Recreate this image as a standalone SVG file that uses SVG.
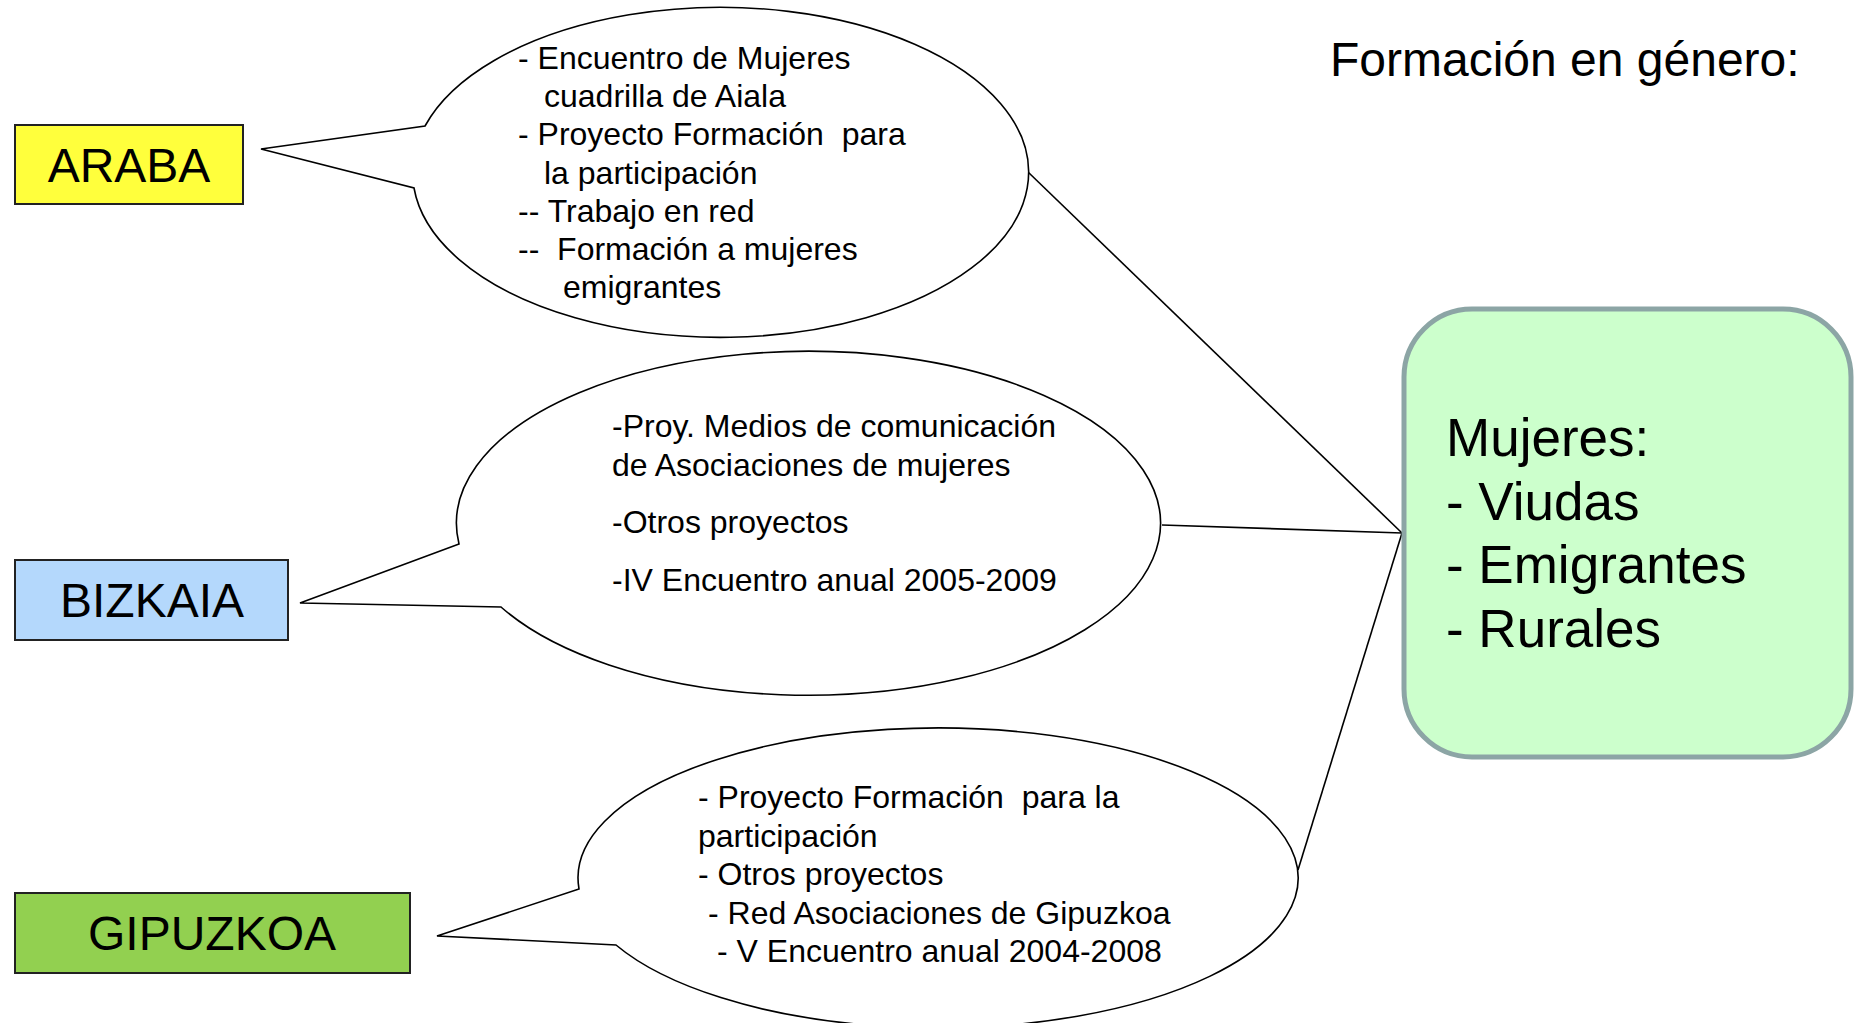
<svg xmlns="http://www.w3.org/2000/svg" width="1856" height="1023" viewBox="0 0 1856 1023">
<style>
  text { font-family: "Liberation Sans", Arial, sans-serif; fill: #000; }
  .t32 { font-size: 32px; }
  .t48 { font-size: 48px; }
  .t53 { font-size: 53px; }
  .bubble { fill: #fff; stroke: #000; stroke-width: 1.6; }
  .conn { fill: none; stroke: #000; stroke-width: 1.6; }
  .box { stroke: #222; stroke-width: 2; }
</style>
<rect x="0" y="0" width="1856" height="1023" fill="#fff"/>

<g id="title">
  <text class="t48" x="1330" y="76">Formación en género:</text>
</g>

<g id="connectors">
  <line class="conn" x1="1028" y1="172" x2="1402" y2="533"/>
  <line class="conn" x1="1162" y1="525" x2="1402" y2="533"/>
  <line class="conn" x1="1298" y1="870" x2="1402" y2="533"/>
</g>

<g id="araba">
  <rect class="box" x="15" y="125" width="228" height="79" fill="#ffff3c"/>
  <text class="t48" x="129" y="182" text-anchor="middle">ARABA</text>
</g>

<g id="araba-bubble">
  <path class="bubble" d="M425,126 A308,165 0 1 1 414,188 L261,149 Z"/>
  <text class="t32" xml:space="preserve"><tspan x="518" y="69">- Encuentro de Mujeres</tspan><tspan x="544" y="107">cuadrilla de Aiala</tspan><tspan x="518" y="145">- Proyecto Formación  para</tspan><tspan x="544" y="184">la participación</tspan><tspan x="518" y="222">-- Trabajo en red</tspan><tspan x="518" y="260">--  Formación a mujeres</tspan><tspan x="563" y="298">emigrantes</tspan></text>
</g>

<g id="bizkaia">
  <rect class="box" x="15" y="560" width="273" height="80" fill="#b4d8fc"/>
  <text class="t48" x="152" y="617" text-anchor="middle">BIZKAIA</text>
</g>

<g id="bizkaia-bubble">
  <path class="bubble" d="M459,544 A352,172 0 1 1 501,607 L300,603 Z"/>
  <text class="t32"><tspan x="612" y="437">-Proy. Medios de comunicación</tspan><tspan x="612" y="476">de Asociaciones de mujeres</tspan><tspan x="612" y="533">-Otros proyectos</tspan><tspan x="612" y="591">-IV Encuentro anual 2005-2009</tspan></text>
</g>

<g id="gipuzkoa">
  <rect class="box" x="15" y="893" width="395" height="80" fill="#92d050"/>
  <text class="t48" x="212" y="950" text-anchor="middle">GIPUZKOA</text>
</g>

<g id="gipuzkoa-bubble">
  <path class="bubble" d="M579,889 A360,150 0 1 1 616,945 L437,936 Z"/>
  <text class="t32" xml:space="preserve"><tspan x="698" y="808">- Proyecto Formación  para la</tspan><tspan x="698" y="847">participación</tspan><tspan x="698" y="885">- Otros proyectos</tspan><tspan x="708" y="924">- Red Asociaciones de Gipuzkoa</tspan><tspan x="717" y="962">- V Encuentro anual 2004-2008</tspan></text>
</g>

<g id="mujeres">
  <rect x="1404" y="309" width="447" height="448" rx="68" ry="68" fill="#ccffcc" stroke="#8ca5a5" stroke-width="5"/>
  <text class="t53"><tspan x="1446" y="456">Mujeres:</tspan><tspan x="1446" y="520">- Viudas</tspan><tspan x="1446" y="583">- Emigrantes</tspan><tspan x="1446" y="647">- Rurales</tspan></text>
</g>
</svg>
